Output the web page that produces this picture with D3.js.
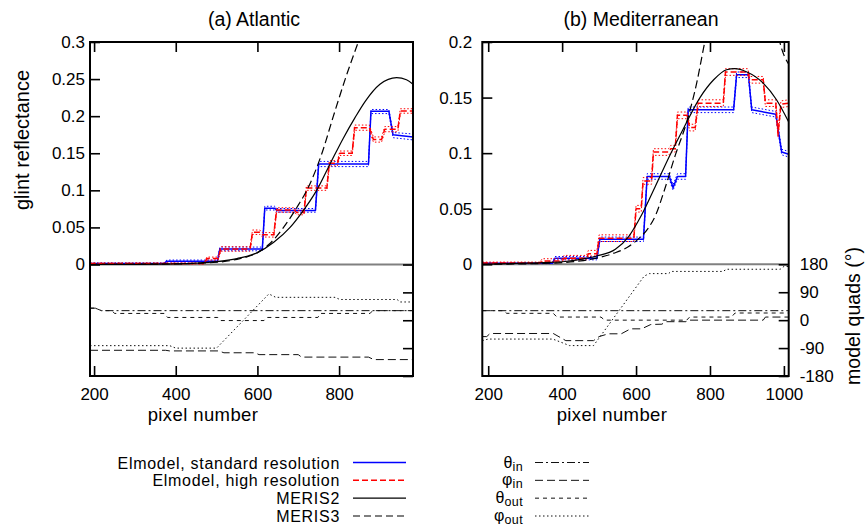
<!DOCTYPE html>
<html>
<head>
<meta charset="utf-8">
<script src="https://cdn.jsdelivr.net/npm/d3@7"></script>
<style>
  body { margin: 0; background: #fff; }
  svg text { font-family: "Liberation Sans", Arial, Helvetica, sans-serif; fill: #000; }
</style>
</head>
<body>
<svg id="chart" width="865" height="529"></svg>
<script>
// ---------- tick labels ----------
const xTicksA = [200, 400, 600, 800];
const xTicksB = [200, 400, 600, 800, 1000];
const reflTicksA = [0, 0.05, 0.1, 0.15, 0.2, 0.25, 0.3];
const reflTicksB = [0, 0.05, 0.1, 0.15, 0.2];
const angleTicks = [-180, -90, 0, 90, 180];

// ---------- (a) Atlantic: glint reflectance ----------
const aStdN  = [190, 372, 378, 502, 508, 612, 618, 642, 648, 742, 750, 872, 878, 922, 932, 981];
const aStd   = [0.0015, 0.0015, 0.0045, 0.0045, 0.021, 0.021, 0.076, 0.076, 0.0727, 0.0727, 0.1355, 0.1355, 0.2065, 0.2065, 0.175, 0.172];
const aStdHi = [0.002, 0.002, 0.006, 0.006, 0.0235, 0.0235, 0.0785, 0.0785, 0.0755, 0.0755, 0.139, 0.139, 0.209, 0.209, 0.178, 0.176];
const aStdLo = [0.001, 0.001, 0.0035, 0.0035, 0.0185, 0.0185, 0.0735, 0.0735, 0.0705, 0.0705, 0.132, 0.132, 0.2035, 0.2035, 0.171, 0.168];

const aHighN  = [190, 470, 476, 504, 510, 582, 588, 606, 612, 640, 647, 690, 696, 714, 720, 770, 776, 796, 802, 832, 838, 874, 884, 904, 912, 944, 950, 981];
const aHigh   = [0.0012, 0.0012, 0.008, 0.008, 0.021, 0.021, 0.0435, 0.0435, 0.040, 0.040, 0.0735, 0.0735, 0.070, 0.070, 0.103, 0.103, 0.1365, 0.1365, 0.150, 0.150, 0.1845, 0.1845, 0.1685, 0.1685, 0.1825, 0.1825, 0.207, 0.207];
const aHighHi = [0.002, 0.002, 0.010, 0.010, 0.024, 0.024, 0.0465, 0.0465, 0.043, 0.043, 0.0765, 0.0765, 0.073, 0.073, 0.106, 0.106, 0.140, 0.140, 0.153, 0.153, 0.188, 0.188, 0.172, 0.172, 0.186, 0.186, 0.210, 0.210];
const aHighLo = [0.0008, 0.0008, 0.006, 0.006, 0.018, 0.018, 0.0405, 0.0405, 0.037, 0.037, 0.0705, 0.0705, 0.067, 0.067, 0.100, 0.100, 0.133, 0.133, 0.147, 0.147, 0.181, 0.181, 0.165, 0.165, 0.179, 0.179, 0.204, 0.204];

const aM2N = [190, 300, 400, 450, 500, 550, 600, 640, 680, 710, 745, 780, 810, 839, 864, 900, 941, 965, 981];
const aM2  = [0, 0.0002, 0.0008, 0.0018, 0.0038, 0.008, 0.016, 0.030, 0.050, 0.071, 0.100, 0.138, 0.170, 0.198, 0.220, 0.243, 0.252, 0.249, 0.243];
const aM3N = [190, 400, 500, 550, 600, 630, 664, 700, 721, 758, 786, 815, 847, 880];
const aM3  = [0, 0.0008, 0.003, 0.007, 0.016, 0.028, 0.050, 0.080, 0.100, 0.150, 0.200, 0.250, 0.300, 0.350];

// ---------- (a) Atlantic: model quad angles (deg) ----------
const aThInN  = [190, 203, 218, 981];
const aThIn   = [39, 39, 31, 31];
const aPhInN  = [190, 375, 385, 505, 518, 594, 604, 700, 708, 872, 885, 981];
const aPhIn   = [-97, -97, -99, -99, -105, -105, -111, -111, -119, -119, -127, -127];
const aThOutN = [190, 203, 218, 244, 250, 372, 380, 503, 509, 616, 622, 748, 754, 876, 882, 981];
const aThOut  = [39, 39, 31, 31, 22, 22, 9, 9, -1, -1, 9, 9, 22, 22, 31, 31];
const aPhOutN = [190, 385, 400, 500, 628, 645, 790, 802, 942, 950, 981];
const aPhOut  = [-82, -82, -90, -90, 85, 74, 74, 67, 67, 59, 59];

// ---------- (b) Mediterranean: glint reflectance ----------
const bStdN  = [184, 374, 380, 494, 502, 620, 630, 690, 700, 712, 734, 741, 864, 872, 904, 913, 978, 986, 994, 1013];
const bStd   = [0.001, 0.001, 0.0055, 0.0055, 0.0225, 0.0225, 0.079, 0.079, 0.069, 0.079, 0.079, 0.139, 0.139, 0.1705, 0.1705, 0.139, 0.135, 0.118, 0.101, 0.099];
const bStdHi = [0.0015, 0.0015, 0.007, 0.007, 0.0245, 0.0245, 0.0815, 0.0815, 0.0715, 0.0815, 0.0815, 0.1415, 0.1415, 0.173, 0.173, 0.1415, 0.1375, 0.1205, 0.1035, 0.1015];
const bStdLo = [0.0006, 0.0006, 0.004, 0.004, 0.0205, 0.0205, 0.0765, 0.0765, 0.0665, 0.0765, 0.0765, 0.1365, 0.1365, 0.168, 0.168, 0.1365, 0.1325, 0.1155, 0.0985, 0.0965];

const bHighN  = [184, 340, 346, 400, 405, 466, 471, 494, 500, 594, 600, 614, 619, 642, 647, 688, 694, 706, 712, 738, 745, 760, 768, 836, 842, 902, 908, 944, 950, 978, 984, 992, 1013];
const bHigh   = [0.0012, 0.0012, 0.003, 0.003, 0.0055, 0.0055, 0.0095, 0.0095, 0.0235, 0.0235, 0.050, 0.050, 0.075, 0.075, 0.101, 0.101, 0.104, 0.104, 0.134, 0.134, 0.123, 0.123, 0.145, 0.145, 0.173, 0.173, 0.166, 0.166, 0.145, 0.145, 0.117, 0.144, 0.145];
const bHighHi = [0.002, 0.002, 0.005, 0.005, 0.008, 0.008, 0.0125, 0.0125, 0.0265, 0.0265, 0.053, 0.053, 0.078, 0.078, 0.104, 0.104, 0.107, 0.107, 0.137, 0.137, 0.126, 0.126, 0.148, 0.148, 0.176, 0.176, 0.169, 0.169, 0.148, 0.148, 0.120, 0.147, 0.148];
const bHighLo = [0.0008, 0.0008, 0.002, 0.002, 0.004, 0.004, 0.0075, 0.0075, 0.0205, 0.0205, 0.047, 0.047, 0.072, 0.072, 0.098, 0.098, 0.101, 0.101, 0.131, 0.131, 0.120, 0.120, 0.142, 0.142, 0.170, 0.170, 0.163, 0.163, 0.142, 0.142, 0.114, 0.141, 0.142];

const bM2N = [184, 272, 350, 408, 450, 494, 544, 580, 616, 652, 690, 728, 773, 810, 845, 867, 900, 944, 980, 1013];
const bM2  = [0, 0.0008, 0.0015, 0.0025, 0.0045, 0.0075, 0.0135, 0.025, 0.045, 0.070, 0.097, 0.122, 0.150, 0.166, 0.175, 0.176, 0.173, 0.163, 0.148, 0.128];
const bM3N = [184, 350, 450, 500, 540, 580, 610, 634, 654, 674, 706, 737, 764, 786, 830, 880, 930, 970, 989, 1013];
const bM3  = [0, 0.0008, 0.003, 0.006, 0.010, 0.016, 0.024, 0.033, 0.045, 0.064, 0.098, 0.128, 0.163, 0.200, 0.260, 0.290, 0.280, 0.235, 0.200, 0.180];

// ---------- (b) Mediterranean: model quad angles (deg) ----------
const bThInN  = [184, 1013];
const bThIn   = [30.5, 30.5];
const bPhInN  = [184, 196, 205, 376, 410, 485, 500, 525, 560, 585, 615, 640, 670, 680, 735, 742, 944, 950, 1013];
const bPhIn   = [-53, -53, -43, -43, -66, -66, -53, -44, -44, -28, -28, -14, -13, -5, -5, 0, 0, 10, 10];
const bThOutN = [184, 240, 250, 376, 386, 505, 515, 737, 745, 858, 868, 1013];
const bThOut  = [30.5, 30.5, 22, 22, 10, 10, 0, 0, 10, 10, 23, 23];
const bPhOutN = [184, 200, 375, 420, 485, 622, 636, 688, 695, 835, 845, 990, 1000, 1013];
const bPhOut  = [-66, -61, -61, -82, -82, 142, 150, 150, 157, 157, 164, 164, 173, 173];

// ---------- legend text ----------
const legendModels = ["Elmodel, standard resolution", "Elmodel, high resolution", "MERIS2", "MERIS3"];
const legendAngles = [["θ", "in"], ["φ", "in"], ["θ", "out"], ["φ", "out"]];

// ---------- styles ----------
const styles = {
  std:   { stroke: "#0000ff", width: 1.5, dash: null },
  high:  { stroke: "#ff0000", width: 1.5, dash: "6,3" },
  m2:    { stroke: "#000000", width: 1.2, dash: null },
  m3:    { stroke: "#000000", width: 1.2, dash: "8,4" },
  thIn:  { stroke: "#111111", width: 1,   dash: "8,3,2,3" },
  phIn:  { stroke: "#111111", width: 1,   dash: "8,4" },
  thOut: { stroke: "#111111", width: 1,   dash: "4,4" },
  phOut: { stroke: "#111111", width: 1,   dash: "1.5,2.5" }
};
const boundDash = "1.5,2";

const TOP = 42, BOTTOM = 376, TICK = 10;

const zip = (n, v) => n.map((d, i) => [d, v[i]]);

const panels = [
  {
    id: "a", title: "(a) Atlantic", titleX: 254, xLabelX: 203,
    left: 90, right: 413, zeroY: 264.5, xDomain: [190, 981], yMax: 0.3,
    xTicks: xTicksA, yTicks: reflTicksA, yPad: 5, rightLabels: false,
    std: [aStdN, aStd, aStdHi, aStdLo], high: [aHighN, aHigh, aHighHi, aHighLo],
    m2: [aM2N, aM2], m3: [aM3N, aM3],
    angles: { thIn: [aThInN, aThIn], phIn: [aPhInN, aPhIn], thOut: [aThOutN, aThOut], phOut: [aPhOutN, aPhOut] }
  },
  {
    id: "b", title: "(b) Mediterranean", titleX: 641, xLabelX: 612,
    left: 482.3, right: 788.7, zeroY: 264.3, xDomain: [184, 1013], yMax: 0.2,
    xTicks: xTicksB, yTicks: reflTicksB, yPad: 10, rightLabels: true,
    std: [bStdN, bStd, bStdHi, bStdLo], high: [bHighN, bHigh, bHighHi, bHighLo],
    m2: [bM2N, bM2], m3: [bM3N, bM3],
    angles: { thIn: [bThInN, bThIn], phIn: [bPhInN, bPhIn], thOut: [bThOutN, bThOut], phOut: [bPhOutN, bPhOut] }
  }
];

const svg = d3.select("#chart");

function applyStyle(sel, st) {
  sel.attr("fill", "none")
     .attr("stroke", st.stroke)
     .attr("stroke-width", st.width)
     .attr("stroke-linejoin", "round");
  if (st.dash) sel.attr("stroke-dasharray", st.dash);
  return sel;
}

panels.forEach(p => {
  const g = svg.append("g").attr("class", "panel-" + p.id);
  const x = d3.scaleLinear().domain(p.xDomain).range([p.left, p.right]);
  const yR = d3.scaleLinear().domain([0, p.yMax]).range([p.zeroY, TOP]);
  const yA = d3.scaleLinear().domain([-180, 180]).range([BOTTOM, p.zeroY]);

  const clipId = "clip-" + p.id;
  svg.append("clipPath").attr("id", clipId)
    .append("rect").attr("x", p.left).attr("y", TOP)
    .attr("width", p.right - p.left).attr("height", BOTTOM - TOP);

  const plot = g.append("g").attr("clip-path", `url(#${clipId})`);

  // zero line of the reflectance axis
  plot.append("line")
    .attr("x1", p.left).attr("x2", p.right)
    .attr("y1", p.zeroY).attr("y2", p.zeroY)
    .attr("stroke", "#808080").attr("stroke-width", 2);

  // angle curves in the lower strip
  const angLine = d3.line().x(d => x(d[0])).y(d => yA(d[1]));
  ["thIn", "phIn", "thOut", "phOut"].forEach(k => {
    const [n, v] = p.angles[k];
    applyStyle(plot.append("path").attr("d", angLine(zip(n, v))), styles[k]);
  });

  // glint reflectance curves
  const stepLine = d3.line().x(d => x(d[0])).y(d => yR(d[1]));
  const smoothLine = d3.line().x(d => x(d[0])).y(d => yR(d[1])).curve(d3.curveMonotoneX);

  [["std", p.std], ["high", p.high]].forEach(([k, arr]) => {
    const [n, v, hi, lo] = arr;
    [hi, lo].forEach(b => {
      plot.append("path").attr("d", stepLine(zip(n, b)))
        .attr("fill", "none").attr("stroke", styles[k].stroke)
        .attr("stroke-width", 1).attr("stroke-dasharray", boundDash);
    });
    applyStyle(plot.append("path").attr("d", stepLine(zip(n, v))), styles[k]);
  });

  applyStyle(plot.append("path").attr("d", smoothLine(zip(p.m2[0], p.m2[1]))), styles.m2);
  applyStyle(plot.append("path").attr("d", smoothLine(zip(p.m3[0], p.m3[1]))), styles.m3);

  // axes with inward ticks
  const fmt = d => String(d);
  const styleAxis = (sel, showText) => {
    sel.select(".domain").remove();
    sel.selectAll(".tick line").attr("stroke", "#000").attr("stroke-width", 1.6);
    sel.selectAll(".tick text").attr("font-size", 17).attr("fill", "#000")
      .attr("font-family", '"Liberation Sans", Arial, Helvetica, sans-serif');
    if (!showText) sel.selectAll(".tick text").remove();
    sel.attr("font-family", null).attr("font-size", null);
  };

  g.append("g").attr("transform", `translate(0,${BOTTOM})`)
    .call(d3.axisBottom(x).tickValues(p.xTicks).tickSize(-TICK).tickPadding(11.5).tickFormat(fmt))
    .call(s => styleAxis(s, true));
  g.append("g").attr("transform", `translate(0,${TOP})`)
    .call(d3.axisTop(x).tickValues(p.xTicks).tickSize(-TICK).tickFormat(fmt))
    .call(s => styleAxis(s, false));
  g.append("g").attr("transform", `translate(${p.left},0)`)
    .call(d3.axisLeft(yR).tickValues(p.yTicks).tickSize(-TICK).tickPadding(p.yPad).tickFormat(fmt))
    .call(s => styleAxis(s, true));
  g.append("g").attr("transform", `translate(${p.right},0)`)
    .call(d3.axisRight(yA).tickValues(angleTicks).tickSize(-TICK).tickPadding(11).tickFormat(fmt))
    .call(s => styleAxis(s, p.rightLabels));

  // frame
  g.append("rect")
    .attr("x", p.left).attr("y", TOP)
    .attr("width", p.right - p.left).attr("height", BOTTOM - TOP)
    .attr("fill", "none").attr("stroke", "#000").attr("stroke-width", 2);

  // titles and axis labels
  g.append("text").attr("x", p.titleX).attr("y", 26)
    .attr("text-anchor", "middle").attr("font-size", 19.5).text(p.title);
  g.append("text").attr("x", p.xLabelX).attr("y", 421)
    .attr("text-anchor", "middle").attr("font-size", 18.5)
    .attr("letter-spacing", 0.4).text("pixel number");
});

svg.append("text")
  .attr("transform", "translate(29,140) rotate(-90)")
  .attr("text-anchor", "middle").attr("font-size", 20).text("glint reflectance");
svg.append("text")
  .attr("transform", "translate(860,316) rotate(-90)")
  .attr("text-anchor", "middle").attr("font-size", 19.5).text("model quads (°)");

// ---------- legend ----------
const legendRowY = d3.scalePoint().domain(d3.range(4)).range([462.5, 516]);
const modelKeys = ["std", "high", "m2", "m3"];
const angleKeys = ["thIn", "phIn", "thOut", "phOut"];
const leg = svg.append("g").attr("class", "legend");

legendModels.forEach((label, i) => {
  const y = legendRowY(i);
  leg.append("text").attr("x", 340).attr("y", y + 6)
    .attr("text-anchor", "end").attr("font-size", 16).attr("letter-spacing", 0.7).text(label);
  const st = Object.assign({}, styles[modelKeys[i]]);
  if (modelKeys[i] === "m3") st.dash = "7,4";
  applyStyle(leg.append("line").attr("x1", 353).attr("x2", 406).attr("y1", y).attr("y2", y), st);
});

legendAngles.forEach(([sym, sub], i) => {
  const y = legendRowY(i);
  const t = leg.append("text").attr("x", 523).attr("y", y + 5)
    .attr("text-anchor", "end").attr("font-size", 16);
  t.append("tspan").text(sym);
  t.append("tspan").attr("dy", 3).attr("font-size", 12.5).attr("letter-spacing", 0.4).text(sub);
  applyStyle(leg.append("line").attr("x1", 535).attr("x2", 589).attr("y1", y).attr("y2", y), styles[angleKeys[i]]);
});
</script>
</body>
</html>
